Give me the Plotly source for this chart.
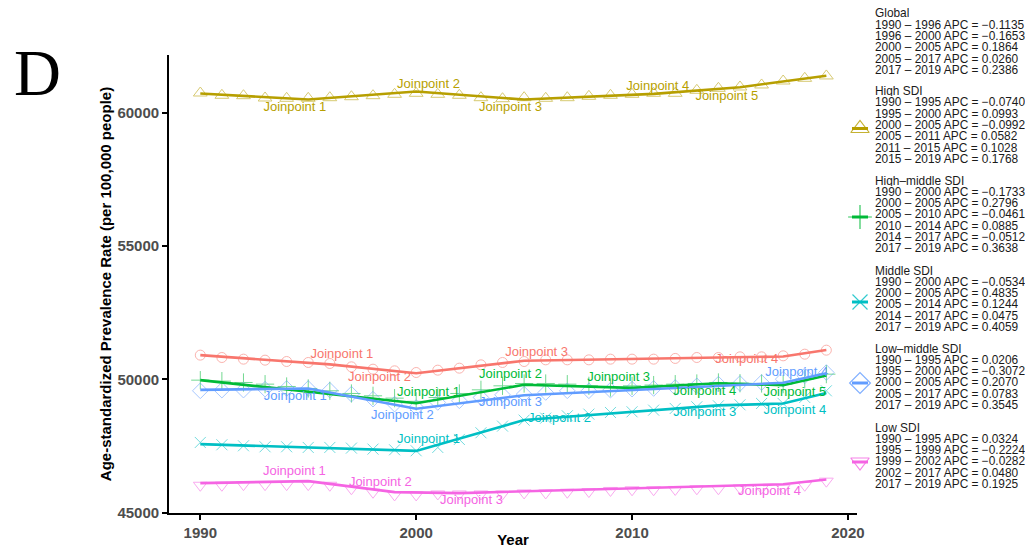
import plotly.graph_objects as go

# ---------------- data ----------------
years = list(range(1990, 2020))

global_obs = [50914, 50825, 50763, 50725, 50675, 50638, 50600, 50475, 50387, 50325,
              50262, 50350, 50425, 50550, 50638, 50675, 50737, 50737, 50737, 50763,
              50763, 50763, 50790, 50825, 50825, 50850, 50850, 50888, 50950, 51100]
high_obs = [60750, 60664, 60649, 60563, 60551, 60551, 60574, 60611, 60649, 60701,
            60739, 60701, 60664, 60574, 60536, 60574, 60551, 60574, 60626, 60664,
            60701, 60739, 60739, 60851, 60926, 60976, 61051, 61200, 61301, 61390]
hm_obs = [49975, 49938, 49888, 49825, 49738, 49663, 49575, 49475, 49388, 49300,
          49180, 49325, 49475, 49612, 49762, 49850, 49850, 49825, 49762, 49700,
          49762, 49790, 49825, 49850, 49888, 49860, 49850, 49825, 50012, 50200]
mid_obs = [47637, 47550, 47512, 47475, 47475, 47450, 47450, 47425, 47387, 47362,
           47325, 47450, 47750, 48000, 48250, 48475, 48550, 48637, 48700, 48762,
           48787, 48850, 48912, 48975, 49012, 49050, 49100, 49100, 49325, 49575]
lm_obs = [49575, 49600, 49600, 49637, 49663, 49663, 49600, 49450, 49262, 49075,
          48950, 49137, 49200, 49325, 49425, 49450, 49512, 49575, 49575, 49600,
          49637, 49663, 49700, 49762, 49825, 49850, 49888, 50012, 50137, 50262]
low_obs = [46031, 46031, 46054, 46054, 46054, 46054, 46031, 45900, 45769, 45668,
           45668, 45705, 45705, 45705, 45705, 45743, 45743, 45769, 45795, 45836,
           45862, 45862, 45874, 45900, 45900, 45926, 45926, 45926, 46031, 46185]

# joinpoint-model fitted values at the segment ends
global_jp_years = [1990, 1996, 2000, 2005, 2017, 2019]
global_jp_fit = [50914, 50568, 50234, 50703, 50862, 51105]
high_jp_years = [1990, 1995, 2000, 2005, 2011, 2015, 2019]
high_jp_fit = [60730, 60505, 60806, 60505, 60717, 60967, 61398]
hm_jp_years = [1990, 2000, 2005, 2010, 2014, 2017, 2019]
hm_jp_fit = [49975, 49110, 49800, 49685, 49860, 49785, 50148]
mid_jp_years = [1990, 2000, 2005, 2014, 2017, 2019]
mid_jp_fit = [47575, 47321, 48480, 49027, 49097, 49496]
lm_jp_years = [1990, 1995, 2000, 2005, 2017, 2019]
lm_jp_fit = [49612, 49663, 48903, 49411, 49876, 50231]
low_jp_years = [1990, 1995, 1999, 2002, 2017, 2019]
low_jp_fit = [46110, 46185, 45775, 45736, 46067, 46244]

# joinpoint label anchor positions (year, rate)
global_lab_x = [1996.56, 1998.30, 2005.58, 2015.31]
global_lab_y = [50918, 50055, 50993, 50731]
high_lab_x = [1994.38, 2000.57, 2004.37, 2011.19, 2014.39]
high_lab_y = [60188, 61052, 60188, 60977, 60602]
hm_lab_x = [2000.57, 2004.37, 2009.38, 2013.37, 2017.54]
hm_lab_y = [49504, 50168, 50055, 49530, 49492]
mid_lab_x = [2000.57, 2006.64, 2013.37, 2017.54]
mid_lab_y = [47729, 48517, 48742, 48817]
lm_lab_x = [1994.40, 1999.36, 2004.37, 2017.63]
lm_lab_y = [49342, 48629, 49117, 50243]
low_lab_x = [1994.36, 1998.34, 2002.56, 2016.37]
low_lab_y = [46529, 46116, 45458, 45777]

global_apc = ["1990 – 1996 APC = −0.1135", "1996 – 2000 APC = −0.1653",
              "2000 – 2005 APC = 0.1864", "2005 – 2017 APC = 0.0260",
              "2017 – 2019 APC = 0.2386"]
high_apc = ["1990 – 1995 APC = −0.0740", "1995 – 2000 APC = 0.0993",
            "2000 – 2005 APC = −0.0992", "2005 – 2011 APC = 0.0582",
            "2011 – 2015 APC = 0.1028", "2015 – 2019 APC = 0.1768"]
hm_apc = ["1990 – 2000 APC = −0.1733", "2000 – 2005 APC = 0.2796",
          "2005 – 2010 APC = −0.0461", "2010 – 2014 APC = 0.0885",
          "2014 – 2017 APC = −0.0512", "2017 – 2019 APC = 0.3638"]
mid_apc = ["1990 – 2000 APC = −0.0534", "2000 – 2005 APC = 0.4835",
           "2005 – 2014 APC = 0.1244", "2014 – 2017 APC = 0.0475",
           "2017 – 2019 APC = 0.4059"]
lm_apc = ["1990 – 1995 APC = 0.0206", "1995 – 2000 APC = −0.3072",
          "2000 – 2005 APC = 0.2070", "2005 – 2017 APC = 0.0783",
          "2017 – 2019 APC = 0.3545"]
low_apc = ["1990 – 1995 APC = 0.0324", "1995 – 1999 APC = −0.2224",
           "1999 – 2002 APC = −0.0282", "2002 – 2017 APC = 0.0480",
           "2017 – 2019 APC = 0.1925"]

series_names = ["Global", "High SDI", "High–middle SDI", "Middle SDI",
                "Low–middle SDI", "Low SDI"]

# ---------------- styling ----------------
colors = ["#F8766D", "#B79F00", "#00BA38", "#00BFC4", "#619CFF", "#F564E3"]
symbols = ["circle-open", "triangle-up-open", "cross-thin-open", "x-thin-open",
           "diamond-open", "triangle-down-open"]
msizes = [10, 12, 13, 11, 12, 12]

series = [
    (global_obs, global_jp_years, global_jp_fit, global_lab_x, global_lab_y, global_apc),
    (high_obs, high_jp_years, high_jp_fit, high_lab_x, high_lab_y, high_apc),
    (hm_obs, hm_jp_years, hm_jp_fit, hm_lab_x, hm_lab_y, hm_apc),
    (mid_obs, mid_jp_years, mid_jp_fit, mid_lab_x, mid_lab_y, mid_apc),
    (lm_obs, lm_jp_years, lm_jp_fit, lm_lab_x, lm_lab_y, lm_apc),
    (low_obs, low_jp_years, low_jp_fit, low_lab_x, low_lab_y, low_apc),
]

W, H = 1025, 548
ML, MR, MT, MB = 169, 5, 55, 35
PW = W - ML - MR
PH = H - MT - MB
PLOT_R = 857  # right edge of the panel in px


def px2x(px):
    return (px - ML) / PW


def py2y(py):
    return (H - MB - py) / PH


FONT = "Liberation Sans, Arial, sans-serif"

fig = go.Figure()

for i, (obs, jy, jf, lx, ly, apc) in enumerate(series):
    c = colors[i]
    fig.add_trace(go.Scatter(
        x=years, y=obs, mode="markers", showlegend=False, opacity=0.55,
        marker=dict(symbol=symbols[i], size=msizes[i], color=c,
                    line=dict(color=c, width=1)),
        xaxis="x", yaxis="y"))
for i, (obs, jy, jf, lx, ly, apc) in enumerate(series):
    fig.add_trace(go.Scatter(
        x=jy, y=jf, mode="lines", showlegend=False,
        line=dict(color=colors[i], width=2.6), xaxis="x", yaxis="y"))
for i, (obs, jy, jf, lx, ly, apc) in enumerate(series):
    fig.add_trace(go.Scatter(
        x=lx, y=ly, mode="text", showlegend=False,
        text=[f"Joinpoint {k + 1}" for k in range(len(lx))],
        textposition="middle center",
        textfont=dict(family=FONT, size=13, color=colors[i]),
        xaxis="x", yaxis="y"))

# ---------------- legend (drawn manually) ----------------
group_top = [13, 90.5, 180, 270, 348, 427]   # px of the title line
key_y = [46.5, 128.5, 217, 302, 383, 462]    # px of legend keys
LINE_H = 11.3
KEY_X = 860
TEXT_X = 874

for i, name in enumerate(series_names):
    c = colors[i]
    fig.add_trace(go.Scatter(
        x=[KEY_X - 8, KEY_X + 8], y=[key_y[i], key_y[i]], mode="lines",
        line=dict(color=c, width=3), showlegend=False, xaxis="x2", yaxis="y2",
        hoverinfo="skip"))
    fig.add_trace(go.Scatter(
        x=[KEY_X], y=[key_y[i]], mode="markers", showlegend=False,
        marker=dict(symbol=symbols[i], size=msizes[i] + 4, color=c,
                    line=dict(color=c, width=1.2)),
        opacity=0.8, xaxis="x2", yaxis="y2", hoverinfo="skip"))
    lines = [name] + series[i][5]
    for k, t in enumerate(lines):
        fig.add_annotation(
            x=px2x(TEXT_X), y=py2y(group_top[i] + k * LINE_H),
            xref="paper", yref="paper", xanchor="left", yanchor="middle",
            text=t, showarrow=False, borderpad=0, height=11,
            font=dict(family=FONT, size=11.9, color="#1A1A1A"))

# panel letter
fig.add_annotation(
    x=px2x(12), y=py2y(73), xref="paper", yref="paper",
    xanchor="left", yanchor="middle", text="D", showarrow=False,
    font=dict(family="Liberation Serif, Times New Roman, serif", size=65,
              color="black"))

tickfont = dict(family=FONT, size=15, color="#4D4D4D", weight="bold")

fig.update_layout(
    width=W, height=H,
    margin=dict(l=ML, r=MR, t=MT, b=MB),
    paper_bgcolor="white", plot_bgcolor="white",
    showlegend=False,
    xaxis=dict(
        domain=[0, px2x(PLOT_R)], range=[1988.55, 2020.42], automargin=False,
        tickvals=[1990, 2000, 2010, 2020], ticks="outside", ticklen=5,
        tickwidth=1.5, tickcolor="black", showline=True, linecolor="black",
        linewidth=1.8, showgrid=False, zeroline=False, tickfont=tickfont,
        title=dict(text="<b>Year</b>", standoff=0,
                   font=dict(family=FONT, size=15, color="black"))),
    yaxis=dict(
        domain=[0, 1], range=[44990, 62176], automargin=False, tickformat="d",
        tickvals=[45000, 50000, 55000, 60000], ticks="outside", ticklen=5,
        tickwidth=1.5, tickcolor="black", showline=True, linecolor="black",
        linewidth=1.8, showgrid=False, zeroline=False, tickfont=tickfont,
        title=dict(text="<b>Age-standardized Prevalence Rate (per 100,000 people)</b>",
                   standoff=2, font=dict(family=FONT, size=15, color="black"))),
    xaxis2=dict(domain=[px2x(845), px2x(877)], range=[845, 877], visible=False,
                anchor="y2", fixedrange=True, automargin=False),
    yaxis2=dict(domain=[0, 1], range=[H - MB, MT], visible=False, anchor="x2",
                fixedrange=True, automargin=False),
)

fig.write_html("out.html", config={"displayModeBar": False},
               post_script="document.body.style.margin='0px';")
